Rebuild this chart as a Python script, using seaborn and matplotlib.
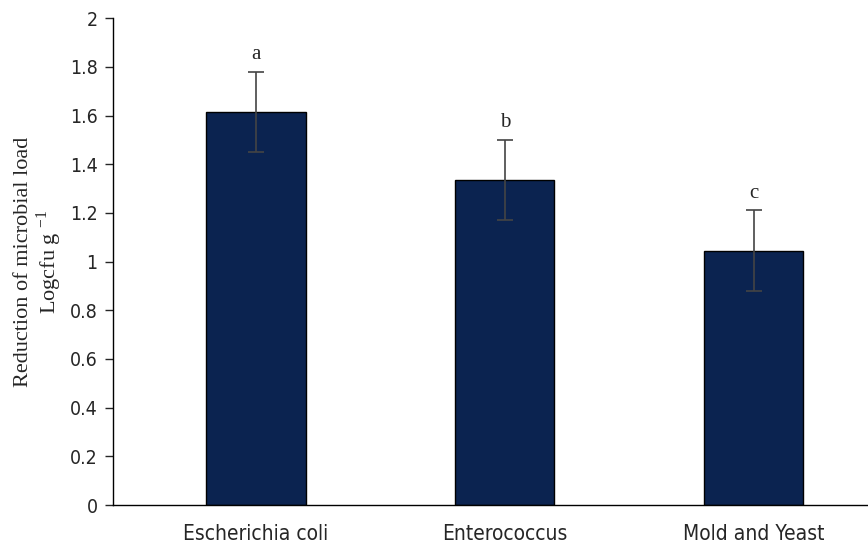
import matplotlib
matplotlib.use("Agg")
import matplotlib.pyplot as plt
import pandas as pd
import seaborn as sns

# Values
organisms = ["Escherichia coli", "Enterococcus", "Mold and Yeast"]
reduction = [1.615, 1.335, 1.045]
std_err = [0.165, 0.165, 0.165]
letters = ["a", "b", "c"]

df = pd.DataFrame({"organism": organisms, "reduction": reduction})

sns.set_style("white")
fig = plt.figure(figsize=(8.68, 5.49), dpi=100)
ax = fig.add_axes([0.130, 0.080, 0.870, 0.887])

sns.barplot(data=df, x="organism", y="reduction", color="#0b2350",
            saturation=1, width=0.40, edgecolor="black", linewidth=1.0,
            errorbar=None, ax=ax)

ax.errorbar(range(len(organisms)), reduction, yerr=std_err, fmt="none",
            ecolor="#444444", elinewidth=1.2, capsize=6, capthick=1.2)

for i, (val, err, lab) in enumerate(zip(reduction, std_err, letters)):
    ax.text(i, val + err + 0.07, lab, ha="center", va="center",
            fontsize=15, family="Liberation Serif")

ax.set_ylim(0, 2)
ax.set_xlim(-0.575, 2.46)
ax.set_yticks([0, 0.2, 0.4, 0.6, 0.8, 1, 1.2, 1.4, 1.6, 1.8, 2])
ax.set_yticklabels(["0", "0.2", "0.4", "0.6", "0.8", "1", "1.2", "1.4", "1.6", "1.8", "2"])
ax.set_xlabel("")
ax.set_ylabel("Reduction of microbial load\nLogcfu g $^{\\mathregular{-1}}$",
              family="Liberation Serif", fontsize=16, labelpad=4,
              linespacing=1.05)

for s in ["top", "right"]:
    ax.spines[s].set_visible(False)
for s in ["left", "bottom"]:
    ax.spines[s].set_color("black")
    ax.spines[s].set_linewidth(1.0)

ax.tick_params(axis="y", left=True, direction="out", length=6, width=1,
               labelsize=14, pad=5)
ax.tick_params(axis="x", bottom=False, labelsize=15, pad=10)
for t in ax.get_xticklabels() + ax.get_yticklabels():
    t.set_family("DejaVu Sans")
    t.set_stretch("condensed")

fig.savefig("out.png", dpi=100)
